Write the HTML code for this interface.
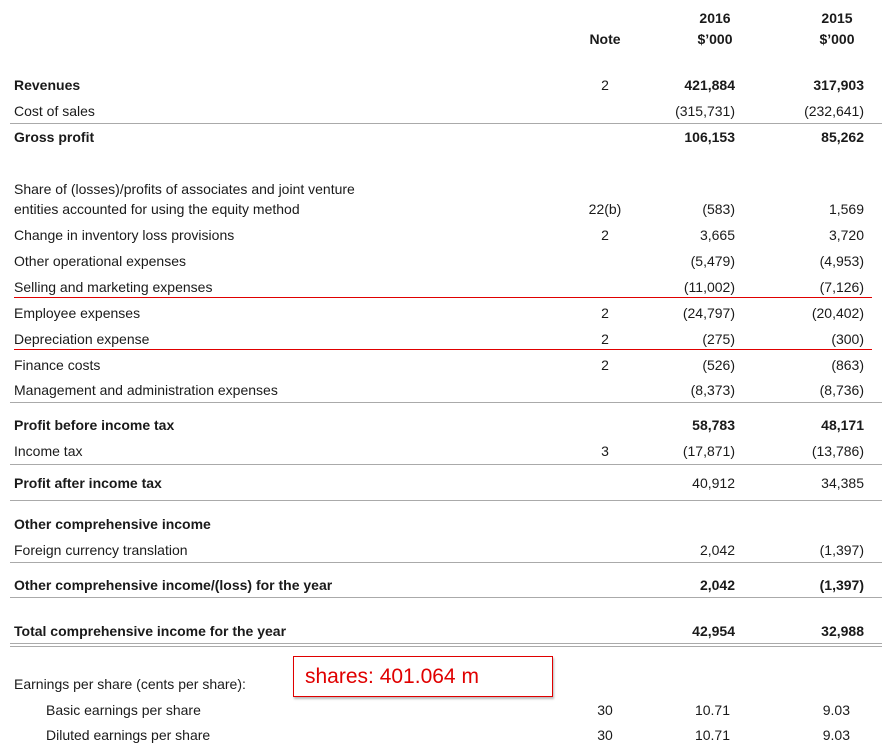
<!DOCTYPE html>
<html><head><meta charset="utf-8"><style>
body{margin:0;width:882px;height:749px;background:#fff;position:relative;overflow:hidden;font-family:"Liberation Sans",sans-serif;color:#1a1a1a;font-size:14px}
.r{position:absolute;left:0;width:882px;height:20px;line-height:20px}
.r span{position:absolute;white-space:nowrap}
.l{left:14px}
.n{left:575px;width:60px;text-align:center}
.a{right:147px}
.b{right:18px}
b{font-weight:bold}
.hl{position:absolute;left:10px;right:0;height:1px;background:#aaa}
.rl{position:absolute;left:14px;width:858px;height:1px;background:#e00000}
</style></head><body>
<div class="r" style="top:8px;font-weight:bold"><span style="left:680px;width:70px;text-align:center">2016</span><span style="left:802px;width:70px;text-align:center">2015</span></div>
<div class="r" style="top:29px;font-weight:bold"><span class="n">Note</span><span style="left:680px;width:70px;text-align:center">$’000</span><span style="left:802px;width:70px;text-align:center">$’000</span></div>

<div class="r" style="top:75px;font-weight:bold"><span class="l">Revenues</span><span class="n" style="font-weight:normal">2</span><span class="a">421,884</span><span class="b">317,903</span></div>
<div class="r" style="top:101px"><span class="l">Cost of sales</span><span class="a">(315,731)</span><span class="b">(232,641)</span></div>
<div class="hl" style="top:123px"></div>
<div class="r" style="top:127px;font-weight:bold"><span class="l">Gross profit</span><span class="a">106,153</span><span class="b">85,262</span></div>

<div class="r" style="top:179px"><span class="l">Share of (losses)/profits of associates and joint venture</span></div>
<div class="r" style="top:199px"><span class="l">entities accounted for using the equity method</span><span class="n">22(b)</span><span class="a">(583)</span><span class="b">1,569</span></div>
<div class="r" style="top:225px"><span class="l">Change in inventory loss provisions</span><span class="n">2</span><span class="a">3,665</span><span class="b">3,720</span></div>
<div class="r" style="top:251px"><span class="l">Other operational expenses</span><span class="a">(5,479)</span><span class="b">(4,953)</span></div>
<div class="r" style="top:277px"><span class="l">Selling and marketing expenses</span><span class="a">(11,002)</span><span class="b">(7,126)</span></div>
<div class="rl" style="top:297px"></div>
<div class="r" style="top:303px"><span class="l">Employee expenses</span><span class="n">2</span><span class="a">(24,797)</span><span class="b">(20,402)</span></div>
<div class="r" style="top:329px"><span class="l">Depreciation expense</span><span class="n">2</span><span class="a">(275)</span><span class="b">(300)</span></div>
<div class="rl" style="top:349px"></div>
<div class="r" style="top:355px"><span class="l">Finance costs</span><span class="n">2</span><span class="a">(526)</span><span class="b">(863)</span></div>
<div class="r" style="top:380px"><span class="l">Management and administration expenses</span><span class="a">(8,373)</span><span class="b">(8,736)</span></div>
<div class="hl" style="top:402px"></div>

<div class="r" style="top:415px;font-weight:bold"><span class="l">Profit before income tax</span><span class="a">58,783</span><span class="b">48,171</span></div>
<div class="r" style="top:441px"><span class="l">Income tax</span><span class="n">3</span><span class="a">(17,871)</span><span class="b">(13,786)</span></div>
<div class="hl" style="top:464px"></div>
<div class="r" style="top:473px"><span class="l" style="font-weight:bold">Profit after income tax</span><span class="a">40,912</span><span class="b">34,385</span></div>
<div class="hl" style="top:500px"></div>

<div class="r" style="top:514px;font-weight:bold"><span class="l">Other comprehensive income</span></div>
<div class="r" style="top:540px"><span class="l">Foreign currency translation</span><span class="a">2,042</span><span class="b">(1,397)</span></div>
<div class="hl" style="top:562px"></div>
<div class="r" style="top:575px;font-weight:bold"><span class="l">Other comprehensive income/(loss) for the year</span><span class="a">2,042</span><span class="b">(1,397)</span></div>
<div class="hl" style="top:597px"></div>

<div class="r" style="top:621px;font-weight:bold"><span class="l">Total comprehensive income for the year</span><span class="a">42,954</span><span class="b">32,988</span></div>
<div class="hl" style="top:643px"></div>
<div class="hl" style="top:646px"></div>

<div style="position:absolute;left:293px;top:656px;width:258px;height:39px;border:1px solid #e00000;box-shadow:1px 2px 2px #bbb;background:#fff"></div>
<div style="position:absolute;left:305px;top:664px;font-size:21px;color:#e00000;line-height:26px">shares: 401.064 m</div>

<div class="r" style="top:674px"><span class="l">Earnings per share (cents per share):</span></div>
<div class="r" style="top:700px"><span style="left:46px">Basic earnings per share</span><span class="n">30</span><span style="right:152px">10.71</span><span style="right:32px">9.03</span></div>
<div class="r" style="top:725px"><span style="left:46px">Diluted earnings per share</span><span class="n">30</span><span style="right:152px">10.71</span><span style="right:32px">9.03</span></div>
</body></html>
